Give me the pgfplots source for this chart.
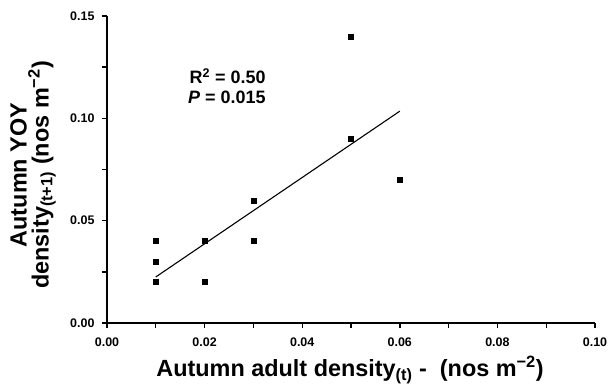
\documentclass[border=0pt]{standalone}
\usepackage{pgfplots}
\pgfplotsset{compat=1.18}
\usepackage{fontspec}
\setmainfont{Liberation Sans}
\newcommand{\tkfont}{\fontsize{12.5}{14}\selectfont\bfseries}
\begin{document}
\begin{tikzpicture}
\begin{axis}[
  scale only axis, width=488bp, height=307bp,
  xmin=0, xmax=0.1, ymin=0, ymax=0.15,
  axis lines=left,
  axis line style={line width=1.8bp, -},
  tick align=outside,
  tick style={line width=1.4bp, black},
  major tick length=5bp, minor tick length=5bp,
  xtick={0,0.02,0.04,0.06,0.08,0.1},
  minor xtick={0.01,0.03,0.05,0.07,0.09},
  ytick={0,0.05,0.1,0.15},
  minor ytick={0.025,0.075,0.125},
  scaled ticks=false,
  xticklabel style={yshift=-6bp},
  yticklabel style={xshift=-4bp},
  xticklabel={\tkfont\pgfmathprintnumber[fixed,fixed zerofill,precision=2,assume math mode=true]{\tick}},
  yticklabel={\tkfont\pgfmathprintnumber[fixed,fixed zerofill,precision=2,assume math mode=true]{\tick}},
  xlabel={Autumn adult density\textsubscript{(t)} -\ \ (nos m\textsuperscript{−2})},
  xlabel style={at={(axis description cs:0.498,-0.153)}, anchor=center, font=\fontsize{23.5}{24}\selectfont\bfseries},
  ylabel={Autumn YOY\\density\textsubscript{(t+1)} (nos m\textsuperscript{−2})},
  ylabel style={at={(axis description cs:-0.1516,0.482)}, anchor=center, align=center, font=\fontsize{23.5}{22}\selectfont\bfseries},
]
\addplot[black, line width=1.1bp] coordinates {(0.01,0.0225) (0.06,0.1035)};
\addplot[only marks, mark=square*, mark size=2.5bp, black] coordinates {
  (0.01,0.04) (0.01,0.03) (0.01,0.02)
  (0.02,0.04) (0.02,0.02)
  (0.03,0.06) (0.03,0.04)
  (0.05,0.14) (0.05,0.09)
  (0.06,0.07)
};
\node[anchor=east, align=right, font=\fontsize{18}{20}\selectfont\bfseries] at (axis cs:0.0332,0.1158) {R\textsuperscript{2} = 0.50\\\textit{P} = 0.015};
\end{axis}
\pgfresetboundingbox
\path (-107bp,-65bp) rectangle (502bp,323bp);
\end{tikzpicture}
\end{document}
